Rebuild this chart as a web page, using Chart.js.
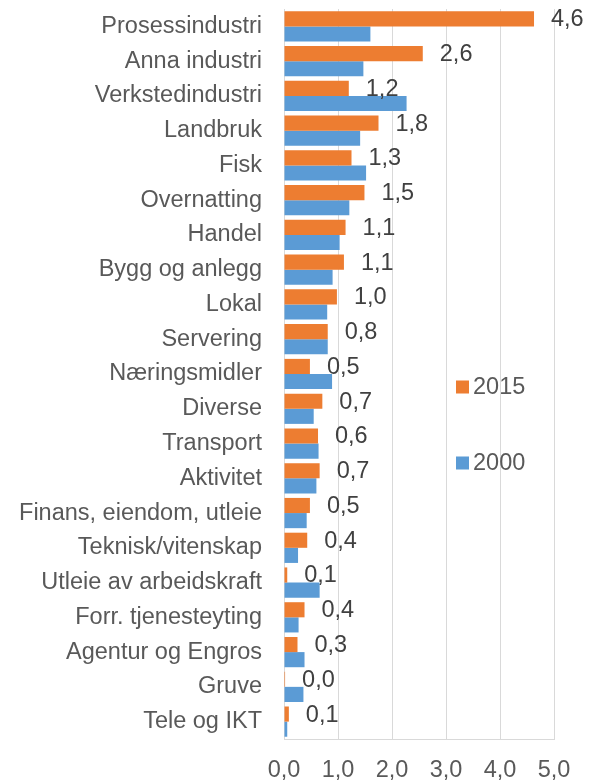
<!DOCTYPE html>
<html>
<head>
<meta charset="utf-8">
<script src="https://cdn.jsdelivr.net/npm/chart.js@4/dist/chart.umd.min.js"></script>
<style>
  html, body { margin: 0; padding: 0; background: #fff; }
  canvas { display: block; }
</style>
</head>
<body>
<canvas id="chartNaering" width="594" height="780"></canvas>
<script>
// Næringer, 2015 mot 2000
const naeringer = [
    'Prosessindustri', 'Anna industri', 'Verkstedindustri', 'Landbruk', 'Fisk',
    'Overnatting', 'Handel', 'Bygg og anlegg', 'Lokal', 'Servering',
    'Næringsmidler', 'Diverse', 'Transport', 'Aktivitet', 'Finans, eiendom, utleie',
    'Teknisk/vitenskap', 'Utleie av arbeidskraft', 'Forr. tjenesteyting',
    'Agentur og Engros', 'Gruve', 'Tele og IKT'
];
const verdier2015 = [4.63, 2.57, 1.20, 1.75, 1.25, 1.49, 1.14, 1.11, 0.98, 0.81,
    0.48, 0.71, 0.63, 0.66, 0.48, 0.43, 0.06, 0.38, 0.25, 0.02, 0.09];
const verdier2000 = [1.60, 1.47, 2.27, 1.41, 1.52, 1.21, 1.03, 0.90, 0.80, 0.81,
    0.89, 0.55, 0.64, 0.60, 0.42, 0.26, 0.66, 0.27, 0.38, 0.36, 0.06];
const xTicks = [0, 1, 2, 3, 4, 5];

const fontFamily = '"Liberation Sans", Arial, sans-serif';
const fontSize = 23.5;

function komma(v) {
    return Number(v).toFixed(1).replace('.', ',');
}

// labels for 2015 bars, to the right of the bar end
const verdiEtiketter = {
    id: 'verdiEtiketter',
    afterDatasetsDraw(chart) {
        const ctx = chart.ctx;
        const meta = chart.getDatasetMeta(0);
        ctx.save();
        ctx.font = fontSize + 'px ' + fontFamily;
        ctx.fillStyle = '#404040';
        ctx.textAlign = 'left';
        ctx.textBaseline = 'middle';
        meta.data.forEach(function(bar, i) {
            ctx.fillText(komma(chart.data.datasets[0].data[i]), bar.x + 17, bar.y + 1);
        });
        ctx.restore();
    }
};

// legend inside the plot, right side
const legendeInne = {
    id: 'legendeInne',
    afterDraw(chart) {
        const ctx = chart.ctx;
        const a = chart.chartArea;
        const x = a.right - 98;
        const rows = [a.top + 378, a.top + 454];
        ctx.save();
        ctx.font = fontSize + 'px ' + fontFamily;
        ctx.textAlign = 'left';
        ctx.textBaseline = 'middle';
        chart.data.datasets.forEach(function(ds, i) {
            ctx.fillStyle = ds.backgroundColor;
            ctx.fillRect(x, rows[i] - 6.5, 13, 13);
            ctx.fillStyle = '#595959';
            ctx.fillText(ds.label, x + 17, rows[i] + 1);
        });
        ctx.restore();
    }
};

document.addEventListener('DOMContentLoaded', function() {
    Chart.defaults.font.family = fontFamily;
    Chart.defaults.font.size = fontSize;
    Chart.defaults.color = '#595959';

    new Chart(document.getElementById('chartNaering').getContext('2d'), {
        type: 'bar',
        data: {
            labels: naeringer,
            datasets: [{
                label: '2015',
                data: verdier2015,
                backgroundColor: '#ED7D31'
            }, {
                label: '2000',
                data: verdier2000,
                backgroundColor: '#5B9BD5'
            }]
        },
        options: {
            indexAxis: 'y',
            responsive: false,
            animation: false,
            categoryPercentage: 0.87,
            barPercentage: 1.0,
            layout: { padding: { top: 9, right: 40, bottom: 0, left: 0 } },
            plugins: {
                legend: { display: false },
                tooltip: { enabled: false }
            },
            scales: {
                x: {
                    min: xTicks[0],
                    max: xTicks[xTicks.length - 1],
                    afterBuildTicks: function(scale) {
                        scale.ticks = xTicks.map(function(v) { return { value: v }; });
                    },
                    afterFit: function(scale) {
                        scale.height = 41;
                        scale.paddingLeft = 0;
                        scale.paddingRight = 0;
                    },
                    grid: { color: '#d9d9d9', lineWidth: 1, drawTicks: false },
                    border: { display: true, color: '#d9d9d9' },
                    ticks: {
                        padding: 17,
                        color: '#595959',
                        callback: function(v) { return komma(v); }
                    }
                },
                y: {
                    afterFit: function(scale) {
                        scale.width = 284;
                        scale.paddingTop = 0;
                        scale.paddingBottom = 0;
                    },
                    grid: { display: false, drawTicks: false },
                    border: { display: true, color: '#d9d9d9' },
                    ticks: { padding: 22, color: '#595959', autoSkip: false }
                }
            }
        },
        plugins: [verdiEtiketter, legendeInne]
    });
});
</script>
</body>
</html>
